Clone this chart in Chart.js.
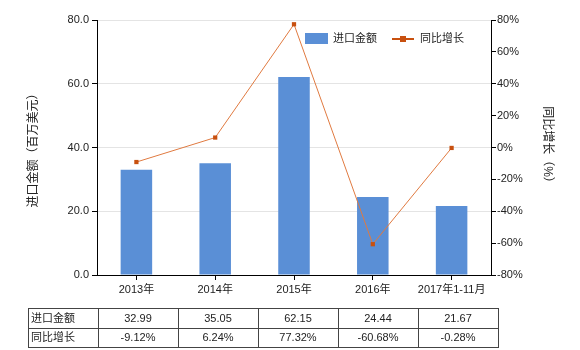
<!DOCTYPE html>
<html>
<head>
<meta charset="utf-8">
<script src="https://cdn.jsdelivr.net/npm/chart.js@4"></script>
<style>
  html, body { margin: 0; padding: 0; background: #fff; }
  #wrap { width: 580px; height: 350px; }
</style>
</head>
<body>
<div id="wrap"><canvas id="comboChart" width="580" height="350"></canvas></div>
<script>
const categories = ["2013年", "2014年", "2015年", "2016年", "2017年1-11月"];
const importValues = [32.99, 35.05, 62.15, 24.44, 21.67];
const growthValues = [-9.12, 6.24, 77.32, -60.68, -0.28];
const importLabels = ["32.99", "35.05", "62.15", "24.44", "21.67"];
const growthLabels = ["-9.12%", "6.24%", "77.32%", "-60.68%", "-0.28%"];
const seriesNames = ["进口金额", "同比增长"];

const FONT = "'Liberation Sans', 'Noto Sans CJK SC', sans-serif";
const barColor = "#5a8fd6";
const lineColor = "#e07a40";
const pointColor = "#c8500f";

// legend + data table under the x axis
const extras = {
    id: "extras",
    afterDraw(chart) {
        const ctx = chart.ctx;
        const area = chart.chartArea;
        ctx.save();

        // legend inside plot area
        ctx.font = "11px " + FONT;
        ctx.textBaseline = "middle";
        ctx.fillStyle = barColor;
        ctx.fillRect(305, 33, 23, 11);
        ctx.fillStyle = "#222";
        ctx.textAlign = "left";
        ctx.fillText(seriesNames[0], 333, 39);
        ctx.strokeStyle = pointColor;
        ctx.lineWidth = 2;
        ctx.beginPath();
        ctx.moveTo(392, 39);
        ctx.lineTo(414, 39);
        ctx.stroke();
        ctx.fillStyle = pointColor;
        ctx.fillRect(400, 36, 6, 6);
        ctx.fillStyle = "#222";
        ctx.fillText(seriesNames[1], 420, 39);

        // table
        const left = 28, firstRight = area.left + 1, colW = 80;
        const top = 308, rowH = 19.5;
        const right = firstRight + colW * categories.length;
        ctx.strokeStyle = "#444";
        ctx.lineWidth = 1;
        ctx.beginPath();
        for (let r = 0; r <= 2; r++) {
            const y = Math.round(top + r * rowH) + 0.5;
            ctx.moveTo(left, y);
            ctx.lineTo(right, y);
        }
        ctx.moveTo(left + 0.5, top);
        ctx.lineTo(left + 0.5, top + 2 * rowH + 1);
        for (let c = 0; c <= categories.length; c++) {
            const x = Math.round(firstRight + c * colW) + 0.5;
            ctx.moveTo(x, top);
            ctx.lineTo(x, top + 2 * rowH + 1);
        }
        ctx.stroke();

        const rows = [importLabels, growthLabels];
        ctx.fillStyle = "#222";
        ctx.font = "11px " + FONT;
        rows.forEach((vals, r) => {
            const y = top + r * rowH + rowH / 2 + 1;
            ctx.textAlign = "left";
            ctx.fillText(seriesNames[r], left + 3, y);
            ctx.textAlign = "center";
            vals.forEach((v, c) => {
                ctx.fillText(v, firstRight + c * colW + colW / 2, y);
            });
        });
        ctx.restore();
    }
};

new Chart(document.getElementById("comboChart").getContext("2d"), {
    data: {
        labels: categories,
        datasets: [
            {
                type: "line",
                label: seriesNames[1],
                data: growthValues,
                yAxisID: "y1",
                borderColor: lineColor,
                borderWidth: 1,
                pointStyle: "rect",
                pointRadius: 3,
                pointBackgroundColor: pointColor,
                pointBorderColor: pointColor,
                pointBorderWidth: 0,
                tension: 0,
                order: 0,
            },
            {
                type: "bar",
                label: seriesNames[0],
                data: importValues,
                yAxisID: "y",
                backgroundColor: barColor,
                categoryPercentage: 1,
                barPercentage: 0.4,
                order: 1,
            },
        ],
    },
    options: {
        responsive: false,
        animation: false,
        layout: { padding: { top: 20, bottom: 50, left: 0, right: 0 } },
        plugins: { legend: { display: false }, tooltip: { enabled: false } },
        scales: {
            x: {
                offset: true,
                grid: { offset: false, drawOnChartArea: false, tickLength: 5, tickColor: "#000" },
                border: { color: "#000" },
                ticks: { color: "#222", font: { family: FONT, size: 11 }, maxRotation: 0, padding: 3 },
                afterFit(s) { s.height = 25; },
            },
            y: {
                position: "left",
                min: 0,
                max: 80,
                ticks: {
                    stepSize: 20,
                    color: "#222",
                    font: { family: FONT, size: 11 },
                    padding: 3,
                    callback: (v) => v.toFixed(1),
                },
                grid: { color: "#e4e4e4", tickColor: "#000", tickLength: 5 },
                border: { color: "#000" },
                title: {
                    display: true,
                    text: "进口金额（百万美元）",
                    color: "#222",
                    font: { family: FONT, size: 12 },
                    padding: { top: 26, bottom: 0 },
                },
                afterFit(s) { s.width = 97; },
            },
            y1: {
                position: "right",
                min: -80,
                max: 80,
                ticks: {
                    stepSize: 20,
                    color: "#222",
                    font: { family: FONT, size: 11 },
                    padding: 1,
                    callback: (v) => v + "%",
                },
                grid: { drawOnChartArea: false, tickColor: "#000", tickLength: 5 },
                border: { color: "#000" },
                title: {
                    display: true,
                    text: "同比增长（%）",
                    color: "#222",
                    font: { family: FONT, size: 12 },
                    padding: { top: 25, bottom: 0 },
                },
                afterFit(s) { s.width = 89; },
            },
        },
    },
    plugins: [extras],
});
</script>
</body>
</html>
